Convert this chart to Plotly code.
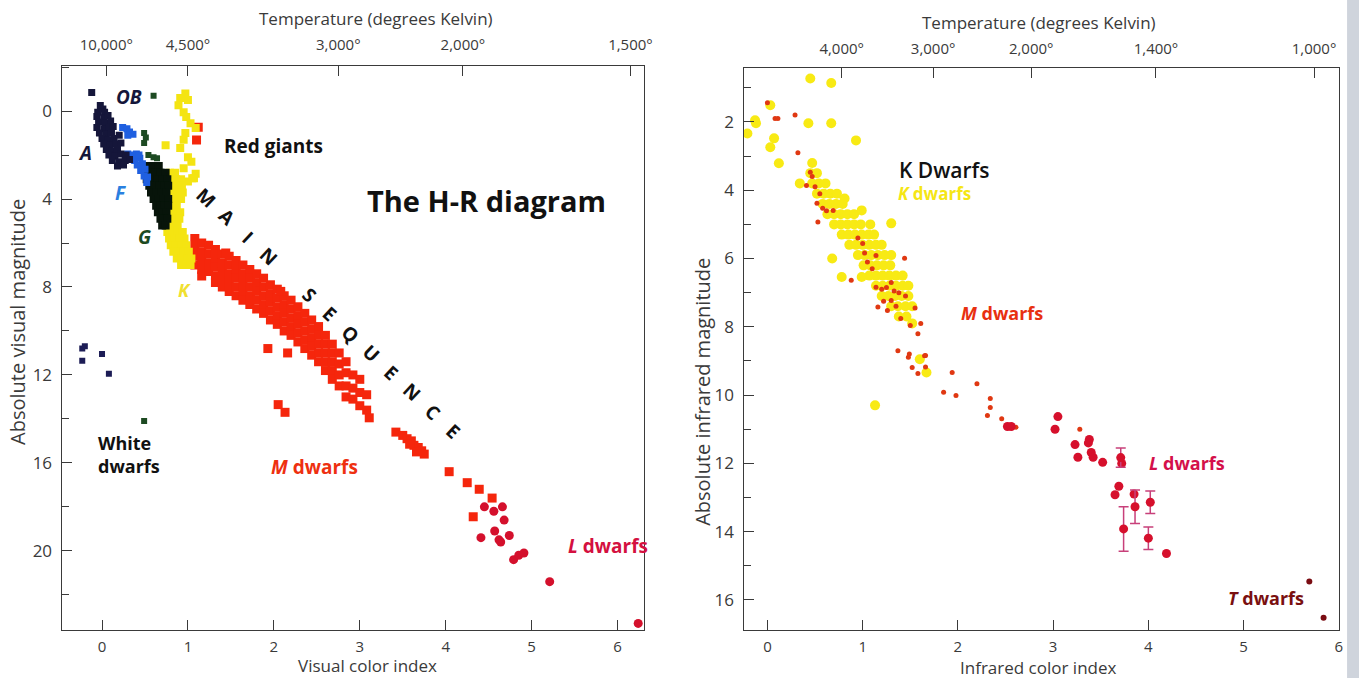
import plotly.graph_objects as go

# ---------------- LEFT CHART DATA (visual color index, absolute visual magnitude) ----------------
a_x = [-0.12, -0.02, 0.01, -0.05, 0.03, -0.06, 0.02, 0.07, -0.04, 0.04, 0.10, -0.06, 0.02, 0.08, 0.13,
       -0.03, 0.05, 0.11, 0.00, 0.07, 0.14, 0.20, 0.02, 0.09, 0.16, 0.22, 0.05, 0.12, 0.18,
       0.08, 0.15, 0.22, 0.28, 0.12, 0.20, 0.27, 0.32, 0.25, 0.18]
a_y = [-0.85, -0.25, -0.10, 0.05, 0.05, 0.25, 0.30, 0.20, 0.50, 0.55, 0.45, 0.75, 0.80, 0.75, 0.70,
       1.00, 1.05, 1.00, 1.25, 1.30, 1.25, 1.10, 1.50, 1.55, 1.50, 1.45, 1.75, 1.80, 1.75,
       2.00, 2.05, 1.95, 2.00, 2.25, 2.30, 2.25, 2.20, 2.45, 2.50]

wd_x = [-0.23, -0.20, -0.23, 0.00, 0.08]
wd_y = [10.80, 10.70, 11.35, 11.05, 11.95]

f_x = [0.24, 0.29, 0.32, 0.36, 0.30, 0.30, 0.35, 0.40, 0.33, 0.38, 0.44, 0.41, 0.47, 0.45, 0.50,
       0.49, 0.53, 0.52, 0.36, 0.43]
f_y = [0.75, 0.80, 0.95, 1.05, 1.10, 1.95, 2.00, 1.95, 2.20, 2.25, 2.15, 2.45, 2.40, 2.70, 2.65,
       2.95, 3.00, 3.25, 2.10, 2.00]

g_out_x = [0.60, 0.49, 0.51, 0.49, 0.54, 0.60, 0.64, 0.49]
g_out_y = [-0.70, 1.00, 1.20, 1.45, 2.00, 2.10, 2.15, 14.10]

g_x = [0.47, 0.53, 0.60, 0.66,
       0.50, 0.56, 0.62, 0.68, 0.74,
       0.52, 0.58, 0.64, 0.70, 0.76,
       0.55, 0.61, 0.67, 0.73, 0.77,
       0.57, 0.63, 0.69, 0.75,
       0.60, 0.66, 0.72, 0.77,
       0.63, 0.68, 0.73, 0.77,
       0.65, 0.70, 0.75,
       0.68, 0.72, 0.76,
       0.70, 0.74]
g_y = [2.5, 2.5, 2.5, 2.5,
       2.8, 2.8, 2.8, 2.8, 2.8,
       3.1, 3.1, 3.1, 3.1, 3.1,
       3.4, 3.4, 3.4, 3.4, 3.4,
       3.7, 3.7, 3.7, 3.7,
       4.0, 4.0, 4.0, 4.0,
       4.3, 4.3, 4.3, 4.3,
       4.6, 4.6, 4.6,
       4.9, 4.9, 4.9,
       5.2, 5.2]

k_x = [0.97, 1.00, 0.89, 0.95, 0.98, 1.03, 1.09, 0.97, 0.95, 0.74, 0.91, 1.00, 1.04, 0.95, 1.07, 1.00, 0.91,
       0.79, 0.85, 0.80, 0.86, 0.92, 0.80, 0.87, 0.93, 0.81, 0.88, 0.94, 0.80, 0.86, 0.92,
       0.81, 0.87, 0.80, 0.86, 0.91, 0.79, 0.85, 0.90, 0.76, 0.82, 0.88,
       0.76, 0.82, 0.88, 0.94, 0.78, 0.84, 0.90, 0.96, 0.80, 0.86, 0.92, 0.98,
       0.83, 0.89, 0.95, 1.01, 0.87, 0.93, 0.99, 1.04, 0.92, 0.98, 1.03, 1.09, 1.05]
k_y = [-0.80, -0.50, -0.27, 0.05, 0.27, 0.55, 0.77, 1.00, 1.30, 1.55, 1.68, 2.10, 2.30, 2.60, 3.05, 3.20, -0.60,
       2.8, 2.8, 3.1, 3.1, 3.1, 3.4, 3.4, 3.4, 3.7, 3.7, 3.7, 4.0, 4.0, 4.0,
       4.3, 4.3, 4.6, 4.6, 4.6, 4.9, 4.9, 4.9, 5.2, 5.2, 5.2,
       5.5, 5.5, 5.5, 5.5, 5.8, 5.8, 5.8, 5.8, 6.1, 6.1, 6.1, 6.1,
       6.4, 6.4, 6.4, 6.4, 6.7, 6.7, 6.7, 6.7, 7.0, 7.0, 7.0, 2.85, 3.05]

m_x = [1.12, 1.10,
       1.08, 1.08, 1.08, 1.08,
       1.16, 1.16, 1.16, 1.16, 1.16,
       1.24, 1.24, 1.24, 1.24,
       1.32, 1.32, 1.32, 1.32, 1.32,
       1.40, 1.40, 1.40, 1.40, 1.40,
       1.48, 1.48, 1.48, 1.48, 1.48,
       1.56, 1.56, 1.56, 1.56, 1.56,
       1.64, 1.64, 1.64, 1.64, 1.64,
       1.72, 1.72, 1.72, 1.72, 1.72,
       1.80, 1.80, 1.80, 1.80, 1.80,
       1.88, 1.88, 1.88, 1.88, 1.88,
       1.96, 1.96, 1.96, 1.96, 1.96,
       2.04, 2.04, 2.04, 2.04, 2.04,
       2.12, 2.12, 2.12, 2.12, 2.12,
       2.20, 2.20, 2.20, 2.20, 2.20,
       2.28, 2.28, 2.28, 2.28, 2.28,
       2.36, 2.36, 2.36, 2.36, 2.36,
       2.44, 2.44, 2.44, 2.44, 2.44,
       2.52, 2.52, 2.52, 2.52, 2.52,
       2.60, 2.60, 2.60, 2.60, 2.60,
       2.68, 2.68, 2.68, 2.68, 2.68,
       2.76, 2.76, 2.76, 2.76,
       2.84, 2.84, 2.84, 2.84,
       2.92, 2.92, 2.92,
       3.00, 3.00, 3.00,
       3.08, 3.08,
       1.44, 2.08, 1.93, 2.16, 2.05, 2.13, 3.11,
       3.42, 3.50, 3.55, 3.60, 3.63, 3.68, 3.72, 3.75, 3.58, 3.66,
       4.04, 4.25, 4.39, 4.54, 4.32]
m_y = [0.73, 1.32,
       5.8, 6.2, 6.6, 7.0,
       6.0, 6.4, 6.8, 7.2, 7.5,
       6.1, 6.5, 6.9, 7.3,
       6.3, 6.7, 7.1, 7.5, 7.8,
       6.5, 6.9, 7.3, 7.7, 8.0,
       6.6, 7.0, 7.4, 7.8, 8.2,
       6.8, 7.2, 7.6, 8.0, 8.4,
       7.0, 7.4, 7.8, 8.2, 8.6,
       7.2, 7.6, 8.0, 8.4, 8.8,
       7.4, 7.8, 8.2, 8.6, 9.0,
       7.6, 8.0, 8.4, 8.8, 9.2,
       7.9, 8.3, 8.7, 9.1, 9.5,
       8.1, 8.5, 8.9, 9.3, 9.7,
       8.4, 8.8, 9.2, 9.6, 10.0,
       8.6, 9.0, 9.4, 9.8, 10.2,
       8.9, 9.3, 9.7, 10.1, 10.5,
       9.2, 9.6, 10.0, 10.4, 10.8,
       9.5, 9.9, 10.3, 10.7, 11.1,
       9.8, 10.2, 10.6, 11.0, 11.4,
       10.2, 10.6, 11.0, 11.4, 11.8,
       10.6, 11.0, 11.4, 11.8, 12.2,
       11.0, 11.5, 12.0, 12.5,
       11.4, 11.9, 12.5, 13.0,
       12.0, 12.6, 13.1,
       12.2, 12.8, 13.4,
       12.9, 13.6,
       6.45, 8.2, 10.8, 11.0, 13.35, 13.7, 13.95,
       14.60, 14.75, 14.90, 15.00, 15.20, 15.30, 15.45, 15.60, 15.15, 15.50,
       16.4, 16.9, 17.2, 17.6, 18.45]

l_x = [4.45, 4.56, 4.66, 4.68, 4.41, 4.57, 4.64, 4.74, 4.79, 4.85, 4.91, 4.62, 5.21, 6.24]
l_y = [18.0, 18.2, 18.0, 18.6, 19.4, 19.1, 19.6, 19.3, 20.4, 20.2, 20.1, 19.5, 21.4, 23.3]

temp_left_pos = [0.05, 1.0, 2.75, 4.2, 6.15]
temp_left_txt = ["10,000°", "4,500°", "3,000°", "2,000°", "1,500°"]

# ---------------- RIGHT CHART DATA (infrared color index, absolute infrared magnitude) ----------------
ky_x = [0.45, 0.52, 0.47, 0.54, 0.61, 0.52, 0.59, 0.66, 0.73, 0.58, 0.65, 0.72, 0.79,
        0.63, 0.70, 0.77, 0.84, 0.91, 0.70, 0.77, 0.84, 0.91, 0.98, 1.08,
        0.78, 0.85, 0.92, 0.99, 1.06, 1.12, 0.86, 0.93, 1.00, 1.07, 1.14, 1.20,
        0.95, 1.02, 1.09, 1.16, 1.23, 1.30, 1.01, 1.08, 1.15, 1.22, 1.29,
        1.07, 1.14, 1.21, 1.28, 1.35, 1.42, 1.14, 1.21, 1.28, 1.35, 1.42, 1.48,
        1.20, 1.27, 1.34, 1.41, 1.48, 1.30, 1.37, 1.45, 1.52, 1.38, 1.46,
        0.45, 0.67, -0.13, -0.12, -0.21, 0.03, 0.43, 0.67, 0.07, 0.03, 0.12, 0.93, 0.47, 0.34,
        0.81, 0.99, 1.30, 0.68, 0.78, 0.99, 1.13, 1.67, 1.60, 1.52]
ky_y = [3.5, 3.5, 3.8, 3.8, 3.8, 4.1, 4.1, 4.1, 4.1, 4.4, 4.4, 4.4, 4.4,
        4.7, 4.7, 4.7, 4.7, 4.7, 5.0, 5.0, 5.0, 5.0, 5.0, 5.0,
        5.3, 5.3, 5.3, 5.3, 5.3, 5.3, 5.6, 5.6, 5.6, 5.6, 5.6, 5.6,
        5.9, 5.9, 5.9, 5.9, 5.9, 5.9, 6.2, 6.2, 6.2, 6.2, 6.2,
        6.5, 6.5, 6.5, 6.5, 6.5, 6.5, 6.8, 6.8, 6.8, 6.8, 6.8, 6.8,
        7.1, 7.1, 7.1, 7.1, 7.1, 7.4, 7.4, 7.4, 7.4, 7.7, 7.7,
        0.73, 0.86, 1.95, 2.04, 2.34, 1.51, 2.04, 2.04, 2.48, 2.74, 3.21, 2.54, 3.20, 3.80,
        4.24, 4.59, 4.97, 6.00, 6.54, 6.54, 10.30, 9.34, 8.95, 7.90]

mr_x = [0.00, 0.08, 0.11, 0.29, 0.32, 0.45, 0.50, 0.41, 0.52, 0.58, 0.53, 0.69, 0.47, 0.55, 0.62,
        1.00, 1.02, 1.14, 0.88, 1.44, 1.14, 1.20, 1.25, 1.30, 1.33, 1.38, 1.16, 1.26, 1.22, 1.40,
        1.50, 1.58, 1.61, 1.37, 1.49, 1.65, 1.52, 1.58, 1.66, 1.48, 1.66,
        1.94, 1.85, 1.98, 2.20, 2.34, 2.34, 2.31, 2.46, 2.61, 3.28,
        1.05, 1.10, 1.30, 0.95, 1.35, 1.45, 1.55]
mr_y = [1.44, 1.90, 1.90, 1.80, 2.90, 3.47, 3.90, 3.86, 4.38, 4.53, 4.93, 4.59, 3.60, 4.10, 4.60,
        5.56, 5.84, 5.91, 6.64, 5.99, 6.84, 6.90, 6.85, 7.23, 6.95, 7.00, 7.42, 7.52, 7.25, 7.76,
        7.96, 8.20, 7.90, 8.70, 8.80, 8.85, 9.19, 9.37, 9.18, 8.89, 8.84,
        9.34, 9.92, 10.01, 9.67, 10.10, 10.36, 10.60, 10.69, 10.94, 11.00,
        6.10, 6.30, 6.70, 5.40, 7.40, 7.10, 7.45]

ld_x = [2.52, 2.56, 3.05, 3.02, 3.23, 3.38, 3.37, 3.26, 3.40, 3.42, 3.52, 3.72, 3.69, 3.65, 3.85, 4.19]
ld_y = [10.92, 10.92, 10.63, 11.00, 11.45, 11.30, 11.40, 11.82, 11.68, 11.82, 11.97, 12.00, 12.67, 12.92, 12.90, 14.64]

lde_x = [3.71, 3.86, 4.02, 3.74, 4.00]
lde_y = [11.83, 13.27, 13.14, 13.92, 14.19]
lde_err = [0.28, 0.49, 0.33, 0.65, 0.33]

td_x = [5.69, 5.84]
td_y = [15.46, 16.52]

temp_right_pos = [0.78, 1.74, 2.77, 4.08, 5.74]
temp_right_txt = ["4,000°", "3,000°", "2,000°", "1,400°", "1,000°"]

# ---------------- FIGURE ----------------
W, H = 1367, 678
FONT = "Open Sans"
AX = "#3a3a3a"

fig = go.Figure()

def sq(x, y, color, size=7, xa="x", ya="y", symbol="square"):
    fig.add_trace(go.Scatter(x=x, y=y, mode="markers", xaxis=xa, yaxis=ya, showlegend=False,
                             hoverinfo="x+y",
                             marker=dict(symbol=symbol, size=size, color=color, line=dict(width=0))))

# left chart traces
sq(m_x, m_y, "#f5260c", 9)
sq(k_x, k_y, "#f4e412", 8)
sq(g_x, g_y, "#07140a", 8)
sq(g_out_x, g_out_y, "#1d4a22", 6)
sq(f_x, f_y, "#1f5fe0", 7)
sq(a_x, a_y, "#15163a", 7)
sq(wd_x, wd_y, "#1c1c55", 6)
sq(l_x, l_y, "#d4102c", 9, symbol="circle")

# right chart traces
sq(ky_x, ky_y, "#f8ea14", 10, "x3", "y2", "circle")
sq(mr_x, mr_y, "#e03812", 5, "x3", "y2", "circle")
sq(ld_x, ld_y, "#d6102c", 9, "x3", "y2", "circle")
fig.add_trace(go.Scatter(x=lde_x, y=lde_y, mode="markers", xaxis="x3", yaxis="y2", showlegend=False,
                         marker=dict(symbol="circle", size=9, color="#d6102c"),
                         error_y=dict(type="data", array=lde_err, visible=True,
                                      color="#c8407a", thickness=1.5, width=5)))
sq(td_x, td_y, "#7a0c12", 6, "x3", "y2", "circle")

# invisible traces so the temperature (top) axes get drawn
fig.add_trace(go.Scatter(x=temp_left_pos, y=[0] * len(temp_left_pos), xaxis="x2", yaxis="y",
                         mode="markers", marker=dict(opacity=0), hoverinfo="skip", showlegend=False))
fig.add_trace(go.Scatter(x=temp_right_pos, y=[2] * len(temp_right_pos), xaxis="x4", yaxis="y2",
                         mode="markers", marker=dict(opacity=0), hoverinfo="skip", showlegend=False))

# domains in paper coords (pixel frame positions)
L0, L1 = 62 / W, 648 / W
R0, R1 = 748 / W, 1347 / W
B = 1 - 630 / H
TL = 1 - 66 / H
TR = 1 - 68 / H

axis_common = dict(showline=True, linecolor=AX, linewidth=1.3, ticks="inside", ticklen=10,
                   tickwidth=1.3, tickcolor=AX, showgrid=False, zeroline=False)
xfont = dict(family=FONT, size=15, color=AX)
yfont = dict(family=FONT, size=17, color=AX)

xl_range = [-0.47, 6.31]
xr_range = [-0.25, 6.003]

fig.update_layout(
    width=W, height=H, autosize=False,
    margin=dict(l=0, r=0, t=0, b=0),
    paper_bgcolor="white", plot_bgcolor="white",
    xaxis=dict(domain=[L0, L1], anchor="y", range=xl_range, tickvals=[0, 1, 2, 3, 4, 5, 6],
               ticklabelstandoff=3, tickfont=xfont, **axis_common),
    xaxis2=dict(domain=[L0, L1], anchor="y", overlaying="x", side="top", range=xl_range,
                tickvals=temp_left_pos, ticktext=temp_left_txt, ticklabelstandoff=9,
                tickfont=xfont, **axis_common),
    yaxis=dict(domain=[B, TL], anchor="x", range=[23.6, -2.05], tickvals=[0, 4, 8, 12, 16, 20],
               mirror=True, ticklabelstandoff=5, tickfont=yfont,
               minor=dict(ticks="inside", ticklen=7, tickwidth=1.2, tickcolor=AX, dtick=2, tick0=0),
               **axis_common),
    xaxis3=dict(domain=[R0, R1], anchor="y2", range=xr_range, tickvals=[0, 1, 2, 3, 4, 5, 6],
                ticklabelstandoff=3, tickfont=xfont, **axis_common),
    xaxis4=dict(domain=[R0, R1], anchor="y2", overlaying="x3", side="top", range=xr_range,
                tickvals=temp_right_pos, ticktext=temp_right_txt, ticklabelstandoff=7,
                tickfont=xfont, **axis_common),
    yaxis2=dict(domain=[B, TR], anchor="x3", range=[16.88, 0.42], tickvals=[2, 4, 6, 8, 10, 12, 14, 16],
                mirror=True, ticklabelstandoff=5, tickfont=yfont,
                minor=dict(ticks="inside", ticklen=7, tickwidth=1.2, tickcolor=AX, dtick=1, tick0=0),
                **axis_common),
    shapes=[dict(type="rect", xref="paper", yref="paper", x0=1355 / W, x1=1.0, y0=0, y1=1,
                 fillcolor="#cfd4dc", line=dict(width=0), layer="above")],
)

ann = []

def pa(text, px, py, size=17, angle=0, color=AX, weight="normal"):
    ann.append(dict(text=text, x=px / W, y=1 - py / H, xref="paper", yref="paper", showarrow=False,
                    textangle=angle, xanchor="center", yanchor="middle",
                    font=dict(family=FONT, size=size, color=color, weight=weight)))

# axis titles
pa("Temperature (degrees Kelvin)", 378, 18)
pa("Temperature (degrees Kelvin)", 1045, 22)
pa("Visual color index", 370, 665)
pa("Infrared color index", 1045, 667)
pa("Absolute visual magnitude", 18, 322, size=20, angle=-90)
pa("Absolute infrared magnitude", 706, 392, size=20, angle=-90)

def da(text, x, y, size=19, color="black", xa="x", ya="y", angle=0, xanchor="center", weight="bold", align="center"):
    ann.append(dict(text=text, x=x, y=y, xref=xa, yref=ya, showarrow=False, textangle=angle,
                    xanchor=xanchor, yanchor="middle", align=align,
                    font=dict(family=FONT, size=size, color=color, weight=weight)))

# left chart labels
da("<i>OB</i>", 0.31, -0.64, 19, "#15163a")
da("<i>A</i>", -0.2, 1.9, 19, "#15163a")
da("<i>F</i>", 0.22, 3.73, 19, "#2a80e0")
da("<i>G</i>", 0.5, 5.73, 19, "#1d4a22")
da("<i>K</i>", 0.96, 8.14, 18, "#f0e030")
da("Red giants", 1.99, 1.59, 19, "#111111")
da("The H-R diagram", 4.48, 4.05, 29, "#111111")
da("White<br>dwarfs", -0.07, 15.6, 18, "#111111", xanchor="left", align="left")
da("<i>M</i> dwarfs", 2.47, 16.18, 19, "#ee3010")
da("<i>L</i> dwarfs", 5.89, 19.8, 19, "#d41040")

# MAIN SEQUENCE, one letter per slot along the sequence
letters = "MAIN SEQUENCE"
x_start, y_start, x_end, y_end = 1.215, 3.95, 4.086, 14.55
n = len(letters) - 1
for i, ch in enumerate(letters):
    if ch == " ":
        continue
    da(ch, x_start + (x_end - x_start) * i / n, y_start + (y_end - y_start) * i / n, 19, "#111111", angle=43)

# right chart labels
da("K Dwarfs", 1.85, 3.42, 21, "#111111", "x3", "y2", weight=600)
da("<i>K</i> dwarfs", 1.75, 4.1, 17, "#f5e614", "x3", "y2")
da("<i>M</i> dwarfs", 2.46, 7.61, 18, "#e83010", "x3", "y2")
da("<i>L</i> dwarfs", 4.41, 11.98, 18, "#d4104a", "x3", "y2")
da("<i>T</i> dwarfs", 5.24, 15.93, 18, "#7a1010", "x3", "y2")

fig.update_layout(annotations=ann)

fig.write_html("out.html", config={"displayModeBar": False},
               post_script="document.body.style.margin='0px';")
